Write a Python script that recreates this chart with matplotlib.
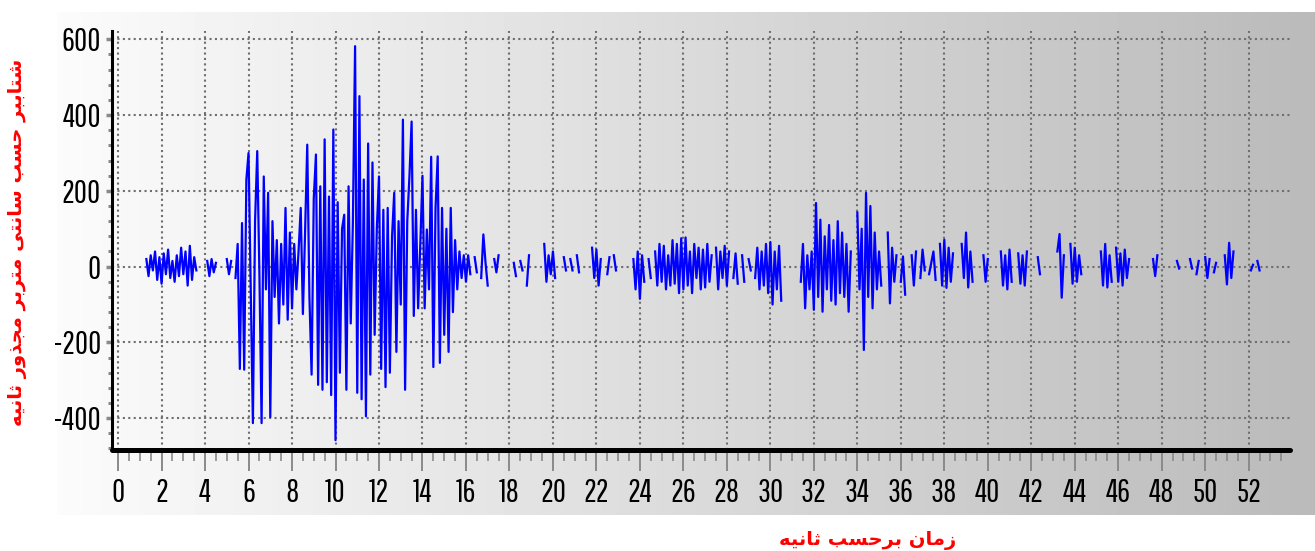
import numpy as np
import matplotlib.pyplot as plt
from matplotlib.ticker import MultipleLocator

plt.rcParams['font.family'] = ['Pathway Gothic One', 'Archivo Narrow', 'DejaVu Sans']
plt.rcParams['axes.unicode_minus'] = False

n = np.nan

# ground acceleration (cm/s^2), one row per second, 0.1 s apart, starting at t = 1.0 s
acc_rows = [
    [n, n, n, 20, -25, 30, -10, 40, -35, 25],                   # 1
    [-45, 35, -20, 45, -30, 15, -40, 30, -25, 50],              # 2
    [-20, 40, -50, 55, -35, 25, -10, n, n, n],                  # 3
    [n, 15, -25, 20, -15, 10, n, n, n, n],                      # 4
    [20, -20, 15, n, -30, 60, -270, 115, -272, 230],            # 5
    [300, -60, -413, 120, 305, -20, -413, 238, -60, 195],       # 6
    [-397, 120, -80, 70, -150, 60, -100, 155, -140, 90],        # 7
    [-110, 60, -60, 40, 155, -125, 90, 322, -80, -285],         # 8
    [180, 296, -312, 212, -325, 336, -305, 185, -339, 362],     # 9
    [-458, 170, -280, 100, 137, -325, 212, -150, 120, 582],     # 10
    [-333, 450, -350, 230, -395, 325, -285, 275, -180, 100],    # 11
    [238, -270, 150, -318, 155, -280, 80, 195, -225, 120],      # 12
    [-100, 388, -325, 120, 238, 383, -130, 150, -110, 60],      # 13
    [240, -110, 98, -60, 290, -265, 155, 291, -254, 155],       # 14
    [-180, 100, -225, 155, -120, 70, -60, 40, -30, 30],         # 15
    [-40, 30, -20, n, 25, -15, n, -30, 85, 10],                 # 16
    [-50, n, n, 20, -15, 30, n, n, n, n],                       # 17
    [n, n, 10, -25, n, 15, -10, n, -50, 30],                    # 18
    [n, n, n, n, n, n, 60, -40, 30, -20],                       # 19
    [40, -30, n, n, n, 25, -10, n, 20, -10],                    # 20
    [n, 30, -15, n, n, n, n, n, 50, -30],                       # 21
    [45, -50, 20, n, n, -20, 25, n, 30, -10],                   # 22
    [n, n, n, n, n, n, n, 20, -60, 40],                         # 23
    [-85, 30, -40, n, 20, -30, n, 40, -50, 60],                 # 24
    [-40, 55, -60, 30, -50, 70, -45, 60, -70, 75],              # 25
    [-60, 77, -50, 40, -70, 60, -30, 50, -60, 45],              # 26
    [-55, 60, -40, 30, n, 50, -60, 40, -30, 55],                # 27
    [-50, 40, n, -30, 35, -45, n, 30, -40, n],                  # 28
    [20, -10, n, -30, 50, -60, 40, -50, 60, -70],               # 29
    [65, -100, 40, -60, 55, -90, n, n, n, n],                   # 30
    [n, n, n, n, -40, 60, -110, 30, -60, 40],                   # 31
    [-114, 168, -80, 124, -119, 80, -60, 110, -90, 70],         # 32
    [-100, 120, -70, 90, -80, 60, -119, 40, n, n],              # 33
    [143, -60, 100, -220, 195, -80, 160, -110, 90, -60],        # 34
    [40, -50, n, n, 90, -97, 50, -40, 30, n],                   # 35
    [-40, 27, -74, n, n, 30, -50, 40, n, -30],                  # 36
    [45, -10, n, -20, 10, 40, -35, n, 60, -50],                 # 37
    [71, -56, 50, -40, 35, n, n, n, 60, -30],                   # 38
    [90, -55, 40, -40, n, n, n, n, 30, -40],                    # 39
    [20, n, n, n, n, n, 40, -50, 30, -60],                      # 40
    [45, -40, n, n, 35, -45, 30, -50, 40, n],                   # 41
    [-30, n, n, 25, -20, n, n, n, n, n],                        # 42
    [n, n, 40, 86, -82, 30, n, n, 60, -45],                     # 43
    [50, -40, 30, -20, n, n, n, n, n, n],                       # 44
    [n, n, 40, -50, 60, -55, 30, -40, n, 50],                   # 45
    [-40, 35, -50, 45, -30, 20, n, n, n, n],                    # 46
    [n, n, n, n, n, n, 20, -25, 30, n],                         # 47
    [n, n, n, n, n, n, n, 15, -5, n],                           # 48
    [n, n, n, 20, -5, n, -20, 15, n, n],                        # 49
    [25, -30, 20, n, -15, 10, n, n, n, 30],                     # 50
    [-47, 63, -30, 40, n, n, n, n, n, 15],                      # 51
    [n, -10, 5, n, 15, -10, n, n, n, n],                        # 52
]
t_start = 1.0
dt = 0.1

xlabel = 'زمان برحسب ثانیه'
ylabel = 'شتاببر حسب سانتی متربر مجذور ثانیه'

# arabic presentation forms: isolated, final, initial, medial
FORMS = {
    'ا': ('\uFE8D', '\uFE8E', None, None),
    'ب': ('\uFE8F', '\uFE90', '\uFE91', '\uFE92'),
    'ت': ('\uFE95', '\uFE96', '\uFE97', '\uFE98'),
    'ث': ('\uFE99', '\uFE9A', '\uFE9B', '\uFE9C'),
    'ج': ('\uFE9D', '\uFE9E', '\uFE9F', '\uFEA0'),
    'ح': ('\uFEA1', '\uFEA2', '\uFEA3', '\uFEA4'),
    'د': ('\uFEA9', '\uFEAA', None, None),
    'ذ': ('\uFEAB', '\uFEAC', None, None),
    'ر': ('\uFEAD', '\uFEAE', None, None),
    'ز': ('\uFEAF', '\uFEB0', None, None),
    'س': ('\uFEB1', '\uFEB2', '\uFEB3', '\uFEB4'),
    'ش': ('\uFEB5', '\uFEB6', '\uFEB7', '\uFEB8'),
    'م': ('\uFEE1', '\uFEE2', '\uFEE3', '\uFEE4'),
    'ن': ('\uFEE5', '\uFEE6', '\uFEE7', '\uFEE8'),
    'ه': ('\uFEE9', '\uFEEA', '\uFEEB', '\uFEEC'),
    'و': ('\uFEED', '\uFEEE', None, None),
    '\u06cc': ('\uFEEF', '\uFEF0', '\uFEF3', '\uFEF4'),
}


def shape(text):
    """Join persian letters and put them in visual (left to right) order."""
    text = text.replace('\u064a', '\u06cc').replace('\u0649', '\u06cc')
    out = []
    for i, ch in enumerate(text):
        if ch not in FORMS:
            out.append(ch)
            continue
        prev = text[i - 1] if i > 0 else ''
        nxt = text[i + 1] if i + 1 < len(text) else ''
        join_prev = prev in FORMS and FORMS[prev][2] is not None
        join_next = nxt in FORMS and FORMS[ch][2] is not None
        iso, fin, ini, med = FORMS[ch]
        if join_prev and join_next:
            out.append(med)
        elif join_prev:
            out.append(fin)
        elif join_next:
            out.append(ini)
        else:
            out.append(iso)
    return ''.join(reversed(out))


def main():
    acc = np.array(acc_rows, dtype=float).ravel()
    t = t_start + dt * np.arange(len(acc))

    W, H = 1315, 551
    fig = plt.figure(figsize=(W / 100, H / 100), dpi=100)

    # chart area with grey gradient
    bg = fig.add_axes([57 / W, 1 - 515 / H, (W - 57) / W, (515 - 12) / H])
    bg.imshow(np.linspace(0.985, 0.73, 256)[None, :], cmap='gray', vmin=0, vmax=1,
              aspect='auto', extent=[0, 1, 0, 1])
    bg.axis('off')

    ax = fig.add_axes([112 / W, 1 - 450 / H, (1290 - 112) / W, (450 - 31) / H])
    ax.set_facecolor('none')
    ax.plot(t, acc, color='#0000ff', lw=1.6)

    ax.set_xlim(-0.28, 53.9)
    ax.set_ylim(-484, 622)
    ax.xaxis.set_major_locator(MultipleLocator(2))
    ax.xaxis.set_minor_locator(MultipleLocator(0.5))
    ax.yaxis.set_major_locator(MultipleLocator(200))
    ax.yaxis.set_minor_locator(MultipleLocator(40))

    ax.grid(True, which='major', color='#6e6e6e', linestyle=(0, (1, 1.6)), lw=1.5)
    ax.set_axisbelow(True)

    for s in ['top', 'right']:
        ax.spines[s].set_visible(False)
    ax.spines['left'].set_linewidth(2.2)
    ax.spines['bottom'].set_linewidth(3.6)
    ax.spines['bottom'].set_capstyle('round')

    ax.tick_params(axis='x', which='major', length=15, width=1.4, color='#8a8a8a',
                   pad=5, labelsize=23)
    ax.tick_params(axis='x', which='minor', length=8, width=1.2, color='#8a8a8a')
    ax.tick_params(axis='y', which='major', length=4, width=2.5, color='#8a8a8a',
                   pad=4, labelsize=23)
    ax.tick_params(axis='y', which='minor', length=3, width=2.2, color='#8a8a8a')

    fig.text(868 / W, 1 - 541 / H, shape(xlabel), color='red', fontsize=14,
             fontweight='bold', family='DejaVu Sans', ha='center', va='center')
    fig.text(18 / W, 1 - 242 / H, shape(ylabel), color='red', fontsize=14,
             fontweight='bold', family='DejaVu Sans', rotation=90,
             ha='center', va='center')

    fig.savefig('out.png', dpi=100)


if __name__ == '__main__':
    main()
